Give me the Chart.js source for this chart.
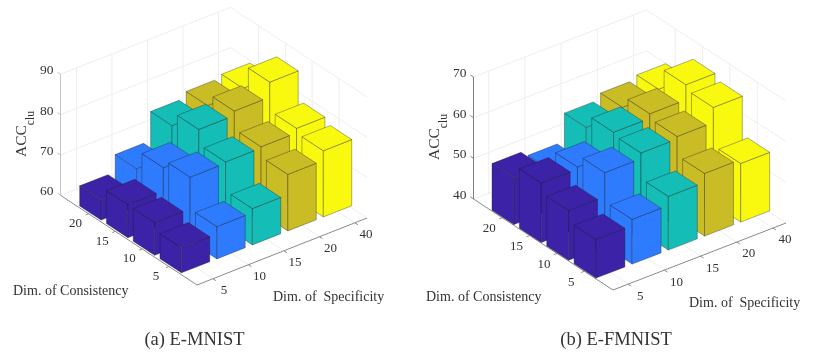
<!DOCTYPE html>
<html>
<head>
<meta charset="utf-8">
<title>ACC clu bars</title>
<script src="https://cdn.jsdelivr.net/npm/chart.js@4"></script>
<style>
    html, body { margin: 0; padding: 0; background: #fff; }
    #wrap { position: relative; width: 831px; height: 352px; overflow: hidden; }
    canvas { position: absolute; top: 0; }
</style>
</head>
<body>
<div id="wrap">
    <canvas id="panelA" width="415" height="352" style="left:0"></canvas>
    <canvas id="panelB" width="416" height="352" style="left:415px"></canvas>
</div>
<script>
// Axis labels, same for both panels
const specificityLabels = ['5', '10', '15', '20', '40'];
const consistencyLabels = ['5', '10', '15', '20'];

// E-MNIST, one array per specificity, consistency 5 -> 20
const mnistSpec5 = [66.2, 68.1, 68.2, 65.0];
const mnistSpec10 = [68.0, 75.9, 73.9, 69.3];
const mnistSpec15 = [69.0, 76.2, 79.9, 76.5];
const mnistSpec20 = [74.0, 76.5, 81.0, 78.0];
const mnistSpec40 = [76.4, 77.6, 84.7, 78.8];
const mnistZTicks = [60, 70, 80, 90];

// E-FMNIST
const fmnistSpec5 = [49.5, 52.2, 54.6, 51.5];
const fmnistSpec10 = [51.0, 58.1, 55.1, 50.1];
const fmnistSpec15 = [53.2, 59.5, 60.2, 57.0];
const fmnistSpec20 = [55.4, 60.1, 61.3, 58.5];
const fmnistSpec40 = [54.4, 63.8, 65.0, 59.5];
const fmnistZTicks = [40, 50, 60, 70];

const barColors = ['#3b22a6', '#2f7bfd', '#14bdb5', '#cabc25', '#f9f90f'];
const serif = '"Liberation Serif", serif';

function dec(scale, v) {
    return scale.getDecimalForPixel(scale.getPixelForValue(v));
}

function makeBars3d(p) {
    function project(chart, x, y, z) {
        const u = dec(chart.scales.x, x);
        const v = dec(chart.scales.y, y);
        const w = dec(chart.scales.z, z);
        return [
            p.origin[0] + u * p.xVec[0] + v * p.yVec[0],
            p.origin[1] + u * p.xVec[1] + v * p.yVec[1] + w * p.zRise
        ];
    }
    function line(ctx, a, b, color, width) {
        ctx.strokeStyle = color;
        ctx.lineWidth = width || 1;
        ctx.beginPath();
        ctx.moveTo(a[0], a[1]);
        ctx.lineTo(b[0], b[1]);
        ctx.stroke();
    }
    function face(ctx, pts, fill) {
        ctx.fillStyle = fill;
        ctx.strokeStyle = 'rgba(30,30,40,0.5)';
        ctx.lineWidth = 0.7;
        ctx.lineJoin = 'round';
        ctx.beginPath();
        pts.forEach((q, i) => i ? ctx.lineTo(q[0], q[1]) : ctx.moveTo(q[0], q[1]));
        ctx.closePath();
        ctx.fill();
        ctx.stroke();
    }
    function text(ctx, str, x, y, size, align) {
        ctx.font = size + 'px ' + serif;
        ctx.fillStyle = '#333';
        ctx.textAlign = align || 'center';
        ctx.textBaseline = 'middle';
        ctx.fillText(str, x, y);
    }
    return {
        id: 'bars3d',
        beforeDatasetsDraw(chart) {
            const ctx = chart.ctx;
            const xs = chart.scales.x, ys = chart.scales.y, zs = chart.scales.z;
            const grid = '#eeeeee';
            const P = (x, y, z) => project(chart, x, y, z);
            ctx.save();
            // walls and floor grid
            p.zTicks.forEach(z => {
                line(ctx, P(xs.min, ys.max, z), P(xs.max, ys.max, z), grid);
                line(ctx, P(xs.max, ys.min, z), P(xs.max, ys.max, z), grid);
            });
            specificityLabels.forEach((lab, i) => {
                line(ctx, P(i + 1, ys.min, zs.min), P(i + 1, ys.max, zs.min), grid);
                line(ctx, P(i + 1, ys.max, zs.min), P(i + 1, ys.max, zs.max), grid);
            });
            consistencyLabels.forEach((lab, j) => {
                line(ctx, P(xs.min, j + 1, zs.min), P(xs.max, j + 1, zs.min), grid);
                line(ctx, P(xs.max, j + 1, zs.min), P(xs.max, j + 1, zs.max), grid);
            });
            // axis lines
            line(ctx, P(xs.min, ys.min, zs.min), P(xs.max, ys.min, zs.min), '#8a8a8a');
            line(ctx, P(xs.min, ys.min, zs.min), P(xs.min, ys.max, zs.min), '#8a8a8a');
            line(ctx, P(xs.min, ys.max, zs.min), P(xs.min, ys.max, zs.max), p.zAxisColor);
            // ticks and tick labels
            specificityLabels.forEach((lab, i) => {
                const a = P(i + 1, ys.min, zs.min);
                line(ctx, a, [a[0] + 3, a[1] + 2], '#8a8a8a');
                text(ctx, lab, a[0] + p.xLabelOff[0], a[1] + p.xLabelOff[1], 13);
            });
            consistencyLabels.forEach((lab, j) => {
                const a = P(xs.min, j + 1, zs.min);
                line(ctx, a, [a[0] - 3, a[1] + 1.2], '#8a8a8a');
                text(ctx, lab, a[0] + p.yLabelOff[0], a[1] + p.yLabelOff[1], 13);
            });
            p.zTicks.forEach(z => {
                const a = P(xs.min, ys.max, z);
                line(ctx, a, [a[0] - 3, a[1] - 2], p.zAxisColor);
                text(ctx, String(z), a[0] - 7, a[1] - 3.5, 13.5, 'right');
            });
            ctx.restore();
        },
        afterDatasetsDraw(chart) {
            const ctx = chart.ctx;
            const zs = chart.scales.z;
            const half = 0.4;
            ctx.save();
            // far bars first, nearest corner is low specificity + low consistency
            for (let d = chart.data.datasets.length - 1; d >= 0; d--) {
                const ds = chart.data.datasets[d];
                for (let k = ds.data.length - 1; k >= 0; k--) {
                    const b = ds.data[k];
                    const x0 = b.x - half, x1 = b.x + half, y0 = b.y - half, y1 = b.y + half;
                    const P = (x, y, z) => project(chart, x, y, z);
                    face(ctx, [P(x0, y0, zs.min), P(x0, y1, zs.min), P(x0, y1, b.z), P(x0, y0, b.z)], ds.backgroundColor);
                    face(ctx, [P(x0, y0, zs.min), P(x1, y0, zs.min), P(x1, y0, b.z), P(x0, y0, b.z)], ds.backgroundColor);
                    face(ctx, [P(x0, y0, b.z), P(x1, y0, b.z), P(x1, y1, b.z), P(x0, y1, b.z)], ds.backgroundColor);
                }
            }
            // titles
            text(ctx, 'Dim. of Consistency', p.consLabel[0], p.consLabel[1], 14, 'left');
            text(ctx, 'Dim. of\u00a0 Specificity', p.specLabel[0], p.specLabel[1], 14, 'left');
            text(ctx, p.caption, p.captionPos[0], p.captionPos[1], 18.5);
            ctx.translate(p.accPos[0], p.accPos[1]);
            ctx.rotate(-Math.PI / 2);
            text(ctx, 'ACC', 0, 0, 15.5, 'left');
            const w = ctx.measureText('ACC').width;
            text(ctx, 'clu', w, 9, 11.5, 'left');
            ctx.restore();
        }
    };
}

function seriesPoints(values, i) {
    return values.map((v, j) => ({ x: i + 1, y: j + 1, z: v }));
}

function drawPanel(canvasId, series, p) {
    new Chart(document.getElementById(canvasId), {
        type: 'scatter',
        data: {
            datasets: series.map((values, i) => ({
                label: 'Specificity ' + specificityLabels[i],
                data: seriesPoints(values, i),
                backgroundColor: barColors[i],
                pointRadius: 0
            }))
        },
        options: {
            responsive: false,
            animation: false,
            layout: { padding: 0 },
            plugins: { legend: { display: false }, tooltip: { enabled: false } },
            scales: {
                x: { type: 'linear', min: p.xLim[0], max: p.xLim[1], display: false },
                y: { type: 'linear', min: p.yLim[0], max: p.yLim[1], display: false },
                z: { type: 'linear', axis: 'y', min: p.zTicks[0], max: p.zTicks[p.zTicks.length - 1], display: false }
            }
        },
        plugins: [makeBars3d(p)]
    });
}

drawPanel('panelA', [mnistSpec5, mnistSpec10, mnistSpec15, mnistSpec20, mnistSpec40], {
    origin: [197, 285], xVec: [170, -67], yVec: [-136.5, -89.7], zRise: -121,
    xLim: [0.55, 5.34], yLim: [-0.05, 5.05],
    zTicks: mnistZTicks, zAxisColor: '#c4c4c4',
    xLabelOff: [11, 12], yLabelOff: [-13, 10],
    consLabel: [13, 291], specLabel: [273, 297],
    caption: '(a) E-MNIST', captionPos: [194.5, 340], accPos: [22, 157]
});

drawPanel('panelB', [fmnistSpec5, fmnistSpec10, fmnistSpec15, fmnistSpec20, fmnistSpec40], {
    origin: [198, 290], xVec: [173, -67], yVec: [-139.5, -91], zRise: -122,
    xLim: [0.58, 5.36], yLim: [-0.05, 5.05],
    zTicks: fmnistZTicks, zAxisColor: '#808080',
    xLabelOff: [12, 12], yLabelOff: [-13, 11],
    consLabel: [11, 297], specLabel: [274, 303],
    caption: '(b) E-FMNIST', captionPos: [201, 340], accPos: [20, 160]
});
</script>
</body>
</html>
